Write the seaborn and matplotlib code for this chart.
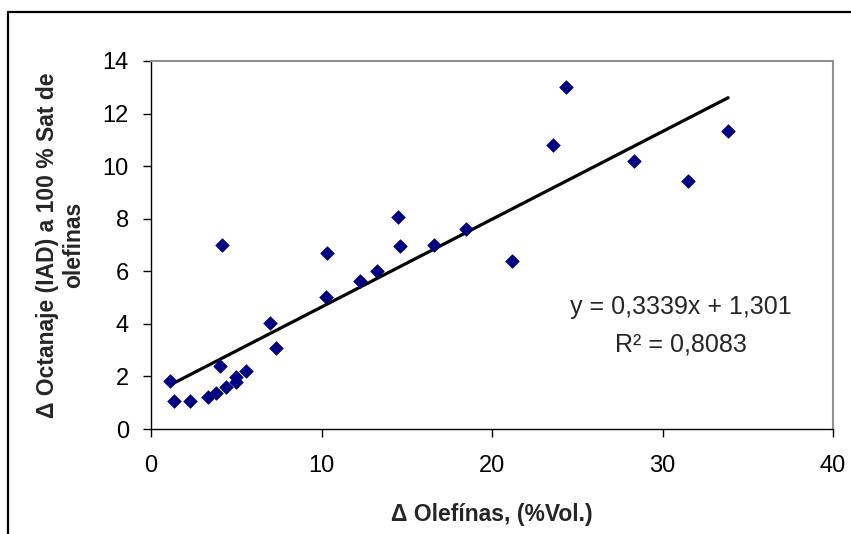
import matplotlib
matplotlib.use("Agg")
import matplotlib.pyplot as plt
from matplotlib.lines import Line2D
import seaborn as sns
import pandas as pd

# Data
olefinas = [1.1, 1.35, 2.3, 3.35, 3.8, 4.05, 4.4, 5.0, 5.0, 5.55, 7.0, 7.35,
            4.15, 10.25, 10.3, 12.25, 13.25, 14.5, 14.6, 16.6, 18.45, 21.2,
            23.55, 24.35, 28.35, 31.5, 33.85]
octanaje = [1.83, 1.07, 1.07, 1.22, 1.37, 2.4, 1.6, 1.97, 1.8, 2.21, 4.02, 3.09,
            7.0, 5.03, 6.68, 5.64, 6.02, 8.05, 6.97, 7.0, 7.61, 6.39,
            10.79, 13.0, 10.18, 9.42, 11.33]
pendiente = 0.3339
ordenada = 1.301
x_ticks = [0, 10, 20, 30, 40]
y_ticks = [0, 2, 4, 6, 8, 10, 12, 14]

df = pd.DataFrame({"x": olefinas, "y": octanaje})
trend = pd.DataFrame({"x": [min(olefinas), max(olefinas)]})
trend["y"] = pendiente * trend["x"] + ordenada

sns.set_style("white")
plt.rcParams["font.family"] = ["Liberation Sans", "DejaVu Sans"]

fig = plt.figure(figsize=(8.51, 5.34), dpi=100)
ax = fig.add_axes([151 / 851, 105 / 534, 682 / 851, 368 / 534])

sns.lineplot(data=trend, x="x", y="y", ax=ax, color="black", linewidth=2.3, zorder=2)
sns.scatterplot(data=df, x="x", y="y", ax=ax, marker="D", s=48, color="#000080",
                edgecolor="#000080", linewidth=0.5, zorder=3)

ax.set_xlim(0, 40)
ax.set_ylim(0, 14)
ax.set_xticks(x_ticks)
ax.set_yticks(y_ticks)
ax.tick_params(axis="both", direction="out", length=5.5, width=1, color="black",
               labelsize=17, labelcolor="black", left=True, bottom=True)
ax.tick_params(axis="y", pad=10.5)
ax.tick_params(axis="x", pad=13)

for s in ["left", "bottom"]:
    ax.spines[s].set_color("black")
    ax.spines[s].set_linewidth(1)
for s in ["top", "right"]:
    ax.spines[s].set_visible(True)
    ax.spines[s].set_color("#909090")
    ax.spines[s].set_linewidth(1.5)

ax.set_xlabel("\u0394 Olef\u00ednas, (%Vol.)", fontsize=16.5, fontweight="bold")
ax.set_ylabel("\u0394 Octanaje (IAD) a 100 % Sat de\nolefinas", fontsize=16.5,
              fontweight="bold", linespacing=1.15)
ax.xaxis.set_label_coords(0.5, -0.2)
ax.yaxis.set_label_coords(-0.097, 0.5)

ax.text(31.08, 4.64, "y = 0,3339x + 1,301", fontsize=18, ha="center", va="center")
ax.text(31.08, 3.2, "R\u00b2 = 0,8083", fontsize=18, ha="center", va="center")

# outer chart border (cropped at right and bottom like the original)
fig.add_artist(Line2D([8 / 851, 1.0], [522 / 534, 522 / 534], color="black", linewidth=1.6,
                      transform=fig.transFigure))
fig.add_artist(Line2D([8 / 851, 8 / 851], [0.0, 522 / 534], color="black", linewidth=1.6,
                      transform=fig.transFigure))

fig.savefig("out.png", dpi=100)
